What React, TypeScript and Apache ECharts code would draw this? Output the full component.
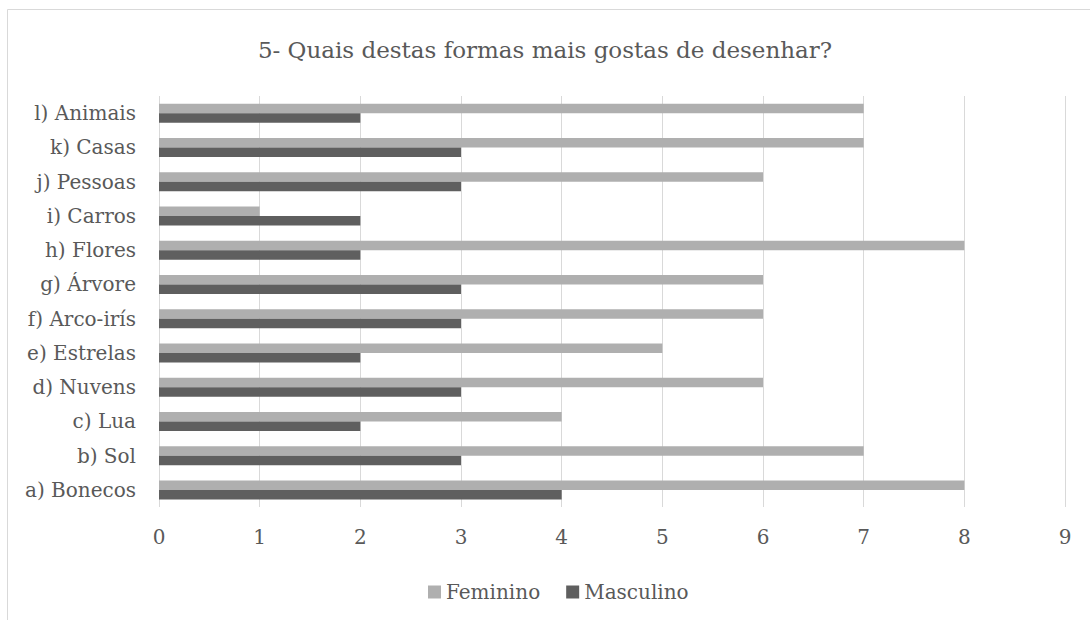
import React, { useEffect, useRef } from "react";
import * as echarts from "echarts";

const categories = [
  "a) Bonecos",
  "b) Sol",
  "c) Lua",
  "d) Nuvens",
  "e) Estrelas",
  "f) Arco-irís",
  "g) Árvore",
  "h) Flores",
  "i) Carros",
  "j) Pessoas",
  "k) Casas",
  "l) Animais",
];
const feminino = [8, 7, 4, 6, 5, 6, 6, 8, 1, 6, 7, 7];
const masculino = [4, 3, 2, 3, 2, 3, 3, 2, 2, 3, 3, 2];
const titleText = "5- Quais destas formas mais gostas de desenhar?";

const FONT = "DejaVu Serif";
const TEXT = "#595959";

export default function App() {
  const ref = useRef<HTMLDivElement>(null);
  useEffect(() => {
    if (!ref.current) return;
    const chart = echarts.init(ref.current, undefined, { renderer: "svg" });
    chart.setOption({
      animation: false,
      backgroundColor: "#ffffff",
      graphic: [
        {
          type: "rect",
          shape: { x: 7.5, y: 9.5, width: 1200, height: 800 },
          style: { fill: "none", stroke: "#d9d9d9", lineWidth: 1 },
          silent: true,
        },
      ],
      title: {
        text: titleText,
        left: "center",
        top: 33,
        textStyle: { fontFamily: FONT, fontSize: 23, fontWeight: "normal", color: TEXT },
      },
      legend: {
        bottom: 13,
        left: 423,
        itemWidth: 13,
        itemHeight: 13,
        itemGap: 26,
        icon: "rect",
        textStyle: { fontFamily: FONT, fontSize: 20, color: TEXT },
        data: ["Feminino", "Masculino"],
      },
      grid: { left: 159, right: 25, top: 96, bottom: 113, containLabel: false },
      xAxis: {
        type: "value",
        min: 0,
        max: 9,
        interval: 1,
        axisLine: { show: false },
        axisTick: { show: false },
        splitLine: { lineStyle: { color: "#d9d9d9", width: 1 } },
        axisLabel: { fontFamily: FONT, fontSize: 20, color: TEXT, margin: 20 },
      },
      yAxis: {
        type: "category",
        data: categories,
        axisLine: { show: false },
        axisTick: { show: false },
        axisLabel: { fontFamily: FONT, fontSize: 20, color: TEXT, margin: 23 },
      },
      series: [
        {
          name: "Feminino",
          type: "bar",
          data: feminino,
          barWidth: 9.5,
          barGap: "0%",
          itemStyle: { color: "#afafaf" },
        },
        {
          name: "Masculino",
          type: "bar",
          data: masculino,
          barWidth: 9.5,
          barGap: "0%",
          itemStyle: { color: "#5f5f5f" },
        },
      ],
    });
    return () => chart.dispose();
  }, []);
  return <div ref={ref} style={{ width: 1090, height: 620, position: "absolute", left: 0, top: 0 }} />;
}
